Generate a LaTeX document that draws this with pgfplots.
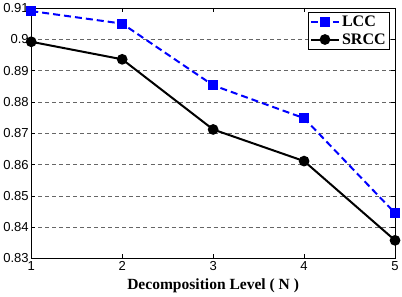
\documentclass[border=0pt]{standalone}
\usepackage{pgfplots}
\pgfplotsset{compat=1.18}
\usepackage{fontspec}
\setmainfont{Liberation Sans}
\newfontfamily\serifbf{Liberation Serif}
\begin{document}
\begin{tikzpicture}
\begin{axis}[
  scale only axis,
  width=363pt, height=250pt,
  xmin=1, xmax=5, ymin=0.83, ymax=0.91,
  xtick={1,2,3,4,5},
  ytick={0.83,0.84,0.85,0.86,0.87,0.88,0.89,0.9,0.91},
  yticklabels={0.83,0.84,0.85,0.86,0.87,0.88,0.89,0.9,0.91},
  tick align=inside,
  major tick length=4pt,
  tick style={black, line width=0.5pt},
  axis line style={black, line width=0.8pt},
  ymajorgrids,
  major grid style={gray!80!black, line width=0.5pt, dash pattern=on 4pt off 3pt},
  /pgf/number format/assume math mode=true,
  tick label style={font=\fontsize{13}{14}\selectfont},
  yticklabel style={xshift=1pt},
  xticklabel style={yshift=1pt},
  xlabel={\serifbf\bfseries Decomposition Level ( N )},
  xlabel style={font=\fontsize{15.5}{16}\selectfont, yshift=-2pt},
  legend style={at={(1,1)}, anchor=north east, xshift=-5pt, yshift=-4pt,
    draw=black, line width=0.7pt,
    font=\serifbf\bfseries\fontsize{16}{18}\selectfont, inner sep=2pt, row sep=1pt},
  legend cell align=left,
  legend image code/.code={%
    \draw[mark repeat=2, mark phase=2, #1]
      plot coordinates {(0pt,0pt) (14pt,0pt) (28pt,0pt)};},
]
\addplot[blue, line width=2pt, dash pattern=on 7pt off 4pt, mark=square*, mark size=4pt, mark options={solid}]
  coordinates {(1,0.909) (2,0.905) (3,0.8853) (4,0.8748) (5,0.8445)};
\addlegendentry{LCC}
\addplot[black, line width=2pt, mark=*, mark size=4.3pt]
  coordinates {(1,0.8992) (2,0.8936) (3,0.8712) (4,0.8611) (5,0.8358)};
\addlegendentry{SRCC}
\end{axis}
\end{tikzpicture}
\end{document}
